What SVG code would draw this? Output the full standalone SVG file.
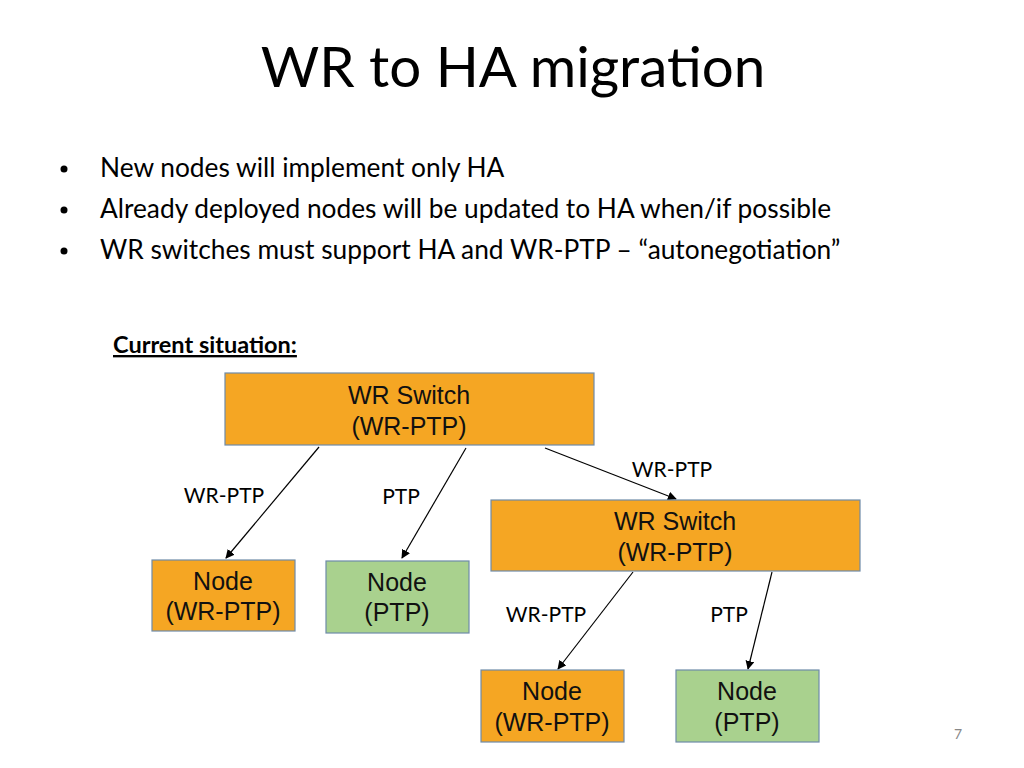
<svg xmlns="http://www.w3.org/2000/svg" width="1024" height="768" viewBox="0 0 1024 768">
<style>
.cal{font-family:Lato,"Open Sans","Liberation Sans",sans-serif;fill:#000}
.title{font-size:56.5px}
.bul{font-size:26.3px}
.elab{font-size:21px;text-anchor:middle}
.box{stroke:#6E8BA8;stroke-width:1.2}
.or{fill:#F5A623}
.gr{fill:#A9D18E}
.nt{font-family:"Liberation Sans",Arial,sans-serif;font-size:25px;text-anchor:middle;fill:#111}
.conn line{stroke:#000;stroke-width:1.2;marker-end:url(#ah)}
</style>
<defs>
<marker id="ah" viewBox="0 0 10 10" refX="9" refY="5" markerWidth="9" markerHeight="9" markerUnits="userSpaceOnUse" orient="auto">
<path d="M0,0 L10,5 L0,10 z" fill="#000"/>
</marker>
</defs>
<rect width="1024" height="768" fill="#fff"/>
<text class="cal title" x="513" y="87" text-anchor="middle">WR to HA migration</text>
<g class="cal bul">
<circle cx="64" cy="169" r="3.5" fill="#000"/>
<circle cx="64" cy="210" r="3.5" fill="#000"/>
<circle cx="64" cy="251" r="3.5" fill="#000"/>
<text x="100" y="177">New nodes will implement only HA</text>
<text x="100" y="218">Already deployed nodes will be updated to HA when/if possible</text>
<text x="100" y="259">WR switches must support HA and WR-PTP – “autonegotiation”</text>
</g>
<text class="cal" x="113" y="353" font-size="23.5" font-weight="bold" text-decoration="underline">Current situation:</text>
<g class="conn">
<line x1="319" y1="447" x2="226" y2="558"/>
<line x1="466" y1="448" x2="402" y2="558"/>
<line x1="545" y1="448" x2="676" y2="499"/>
<line x1="633" y1="572" x2="558" y2="669"/>
<line x1="772" y1="572" x2="748" y2="669"/>
</g>
<g class="cal elab">
<text x="224" y="503">WR-PTP</text>
<text x="401" y="504">PTP</text>
<text x="672" y="477">WR-PTP</text>
<text x="546" y="622">WR-PTP</text>
<text x="729" y="622">PTP</text>
</g>
<g id="sw1"><rect class="box or" x="225" y="373" width="369" height="72"/><text class="nt" x="409" y="404">WR Switch</text><text class="nt" x="409" y="435">(WR-PTP)</text></g>
<g id="sw2"><rect class="box or" x="491" y="500" width="369" height="71"/><text class="nt" x="675" y="530">WR Switch</text><text class="nt" x="675" y="561">(WR-PTP)</text></g>
<g id="n1"><rect class="box or" x="152" y="560" width="143" height="71"/><text class="nt" x="223" y="590">Node</text><text class="nt" x="223" y="620">(WR-PTP)</text></g>
<g id="n2"><rect class="box gr" x="326" y="561" width="143" height="72"/><text class="nt" x="397" y="591">Node</text><text class="nt" x="397" y="621">(PTP)</text></g>
<g id="n3"><rect class="box or" x="481" y="670" width="143" height="72"/><text class="nt" x="552" y="700">Node</text><text class="nt" x="552" y="731">(WR-PTP)</text></g>
<g id="n4"><rect class="box gr" x="676" y="670" width="143" height="72"/><text class="nt" x="747" y="700">Node</text><text class="nt" x="747" y="731">(PTP)</text></g>
<text x="958" y="739" font-family="Lato,sans-serif" font-size="14" fill="#888" text-anchor="middle">7</text>
</svg>
